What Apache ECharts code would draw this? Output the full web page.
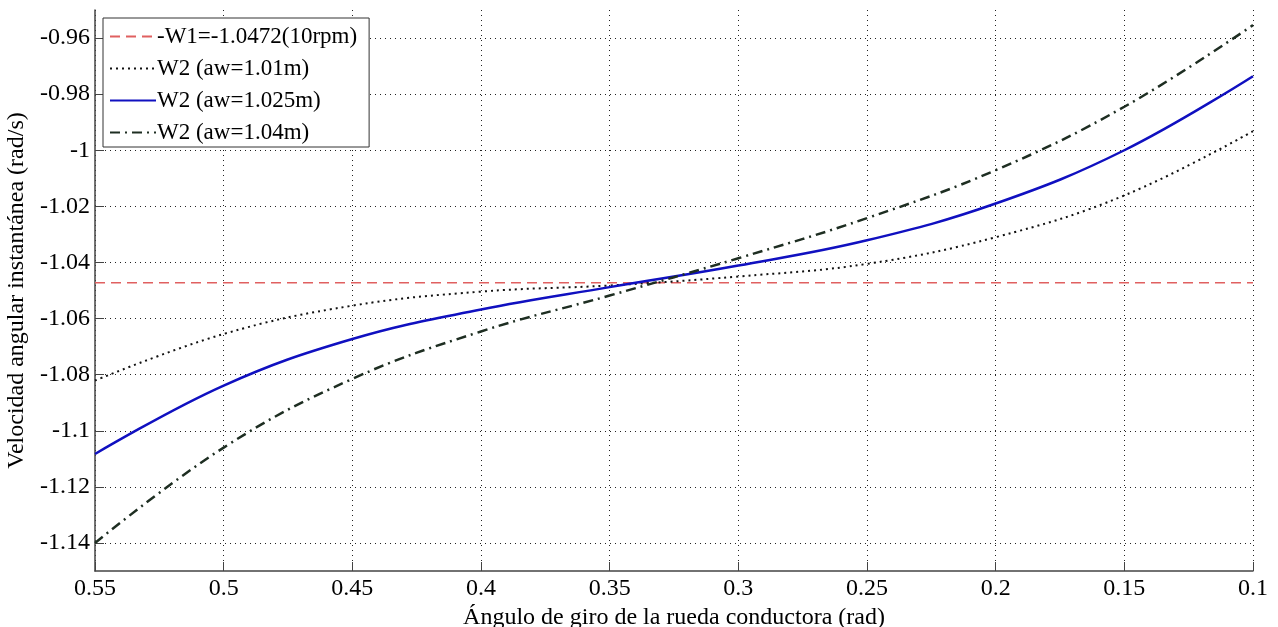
<!DOCTYPE html>
<html>
<head>
<meta charset="utf-8">
<script src="https://cdn.jsdelivr.net/npm/echarts@6/dist/echarts.min.js"></script>
<style>
  html, body { margin: 0; padding: 0; background: #fff; }
  #chart { width: 1278px; height: 627px; }
</style>
</head>
<body>
<div id="chart"></div>
<script>
// angulo de giro (rad)
const angles = [0.55, 0.5, 0.45, 0.4, 0.35, 0.3, 0.25, 0.2, 0.15, 0.1];
const w1 = -1.0472;
// velocidades
const w2_101 = [-1.0821, -1.0655, -1.0554, -1.0504, -1.0482, -1.0450, -1.0405, -1.0310, -1.0161, -0.9932];
const w2_1025 = [-1.1083, -1.0839, -1.0673, -1.0568, -1.0488, -1.0411, -1.0321, -1.0190, -1.0000, -0.9736];
const w2_104 = [-1.1400, -1.1060, -1.0815, -1.0646, -1.0518, -1.0385, -1.0242, -1.0071, -0.9845, -0.9554];
const yTicks = [-1.14, -1.12, -1.1, -1.08, -1.06, -1.04, -1.02, -1, -0.98, -0.96];
const names = ['-W1=-1.0472(10rpm)', 'W2 (aw=1.01m)', 'W2 (aw=1.025m)', 'W2 (aw=1.04m)'];

const font = 'Liberation Serif';
const pairs = (ys) => angles.map((x, i) => [x, ys[i]]);

const chart = echarts.init(document.getElementById('chart'));
chart.setOption({
  animation: false,
  grid: { left: 95, right: 25, top: 10, bottom: 56, outerBoundsMode: 'none', containLabel: false },
  legend: {
    orient: 'vertical',
    left: 103,
    top: 18,
    padding: [7, 12, 3, 6],
    itemGap: 9,
    itemWidth: 46,
    itemHeight: 14,
    borderColor: '#333',
    borderWidth: 1,
    backgroundColor: '#fff',
    itemStyle: { opacity: 0 },
    textStyle: { fontFamily: font, fontSize: 23, color: '#000', padding: [0, 0, 0, -4] },
    data: names
  },
  xAxis: {
    type: 'value',
    inverse: true,
    min: 0.1,
    max: 0.55,
    interval: 0.05,
    name: 'Ángulo de giro de la rueda conductora (rad)',
    nameLocation: 'middle',
    nameGap: 27,
    nameTextStyle: { fontFamily: font, fontSize: 24, color: '#000' },
    axisLine: { onZero: false, lineStyle: { color: '#444', width: 1.5 } },
    axisTick: { inside: true, length: 9, lineStyle: { color: '#444' } },
    axisLabel: { fontFamily: font, fontSize: 24, color: '#000', margin: 6 },
    splitLine: { show: true, lineStyle: { type: [1, 4], color: '#222', width: 1 } }
  },
  yAxis: {
    type: 'value',
    min: -1.15,
    max: -0.95,
    name: 'Velocidad angular instantánea (rad/s)',
    nameLocation: 'middle',
    nameGap: 66,
    nameTextStyle: { fontFamily: font, fontSize: 24, color: '#000' },
    axisLine: { show: true, onZero: false, lineStyle: { color: '#444', width: 1.5 } },
    axisTick: { inside: true, length: 9, customValues: yTicks, lineStyle: { color: '#444' } },
    axisLabel: { fontFamily: font, fontSize: 24, color: '#000', margin: 5, customValues: yTicks },
    splitLine: { show: true, lineStyle: { type: [1, 4], color: '#222', width: 1 } }
  },
  series: [
    {
      name: names[0], type: 'line', symbol: 'none',
      data: [[0.55, w1], [0.1, w1]],
      lineStyle: { color: '#e06060', width: 1.5, type: [10, 6] },
      itemStyle: { color: '#e06060' }
    },
    {
      name: names[1], type: 'line', symbol: 'none', smooth: 0.4,
      data: pairs(w2_101),
      lineStyle: { color: '#111', width: 2, type: [2, 4] },
      itemStyle: { color: '#111' }
    },
    {
      name: names[2], type: 'line', symbol: 'none', smooth: 0.4,
      data: pairs(w2_1025),
      lineStyle: { color: '#1010c0', width: 2.5 },
      itemStyle: { color: '#1010c0' }
    },
    {
      name: names[3], type: 'line', symbol: 'none', smooth: 0.4,
      data: pairs(w2_104),
      lineStyle: { color: '#1e2e22', width: 2.5, type: [10, 5, 2, 5] },
      itemStyle: { color: '#1e2e22' }
    }
  ]
});
</script>
</body>
</html>
